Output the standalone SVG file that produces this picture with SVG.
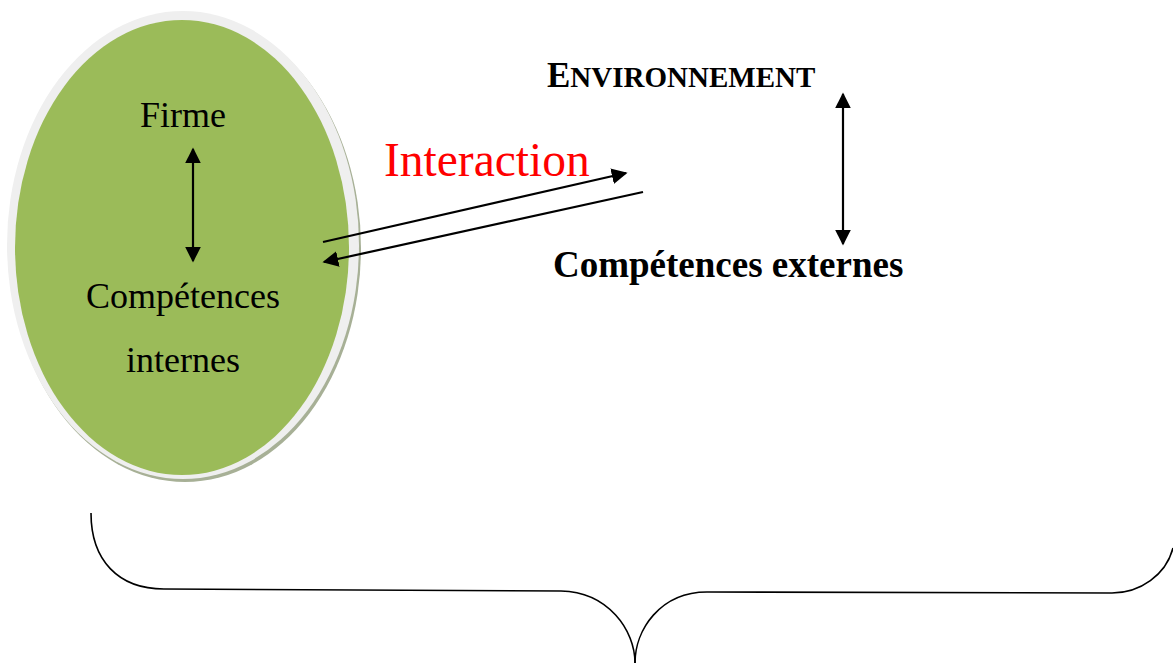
<svg xmlns="http://www.w3.org/2000/svg" width="1173" height="663" viewBox="0 0 1173 663">
<style>
.t{font-family:"Liberation Serif","Times New Roman",serif;fill:#000}
.ln{stroke:#000;stroke-width:2.2;fill:none}
.br{stroke:#000;stroke-width:1.6;fill:none}
</style>
<defs>
<marker id="ah" viewBox="0 0 10 10" refX="9" refY="5" markerWidth="7.2" markerHeight="7.2" orient="auto-start-reverse" markerUnits="strokeWidth">
<path d="M0,0 L10,5 L0,10 Z" fill="#000"/>
</marker>
</defs>
<rect width="1173" height="663" fill="#fff"/>
<g id="firme">
<ellipse cx="185" cy="248" rx="176" ry="234" fill="#a7b096"/>
<ellipse cx="183" cy="245" rx="176" ry="234" fill="#efefef"/>
<ellipse cx="182" cy="247.5" rx="167" ry="227.5" fill="#9bbb59"/>
<text class="t" x="183" y="127" font-size="36" text-anchor="middle">Firme</text>
<text class="t" x="183" y="308" font-size="36" text-anchor="middle">Compétences</text>
<text class="t" x="183" y="372" font-size="36" text-anchor="middle">internes</text>
</g>
<g id="environnement">
<text class="t" x="547" y="87" font-weight="bold" font-size="29"><tspan font-size="35">E</tspan>NVIRONNEMENT</text>
<text class="t" x="553" y="277" font-weight="bold" font-size="37">Compétences externes</text>
</g>
<g id="interaction-label">
<text x="384" y="176" font-family="Liberation Serif,'Times New Roman',serif" font-size="47.5" fill="#ff0000">Interaction</text>
</g>
<g id="connectors">
<line class="ln" x1="193" y1="149" x2="193" y2="261" marker-start="url(#ah)" marker-end="url(#ah)"/>
<line class="ln" x1="843" y1="94" x2="843" y2="244" marker-start="url(#ah)" marker-end="url(#ah)"/>
<line class="ln" x1="323" y1="242" x2="626" y2="173" marker-end="url(#ah)"/>
<line class="ln" x1="643" y1="192" x2="324" y2="262" marker-end="url(#ah)"/>
<path class="br" d="M91 513 C91 560 118 589 164 589 L561 591 C608 592 635 630 635 663"/>
<path class="br" d="M635 663 C635 630 660 592 707 592 L1112 593 C1140 593 1166 575 1173 548"/>
</g>
</svg>
